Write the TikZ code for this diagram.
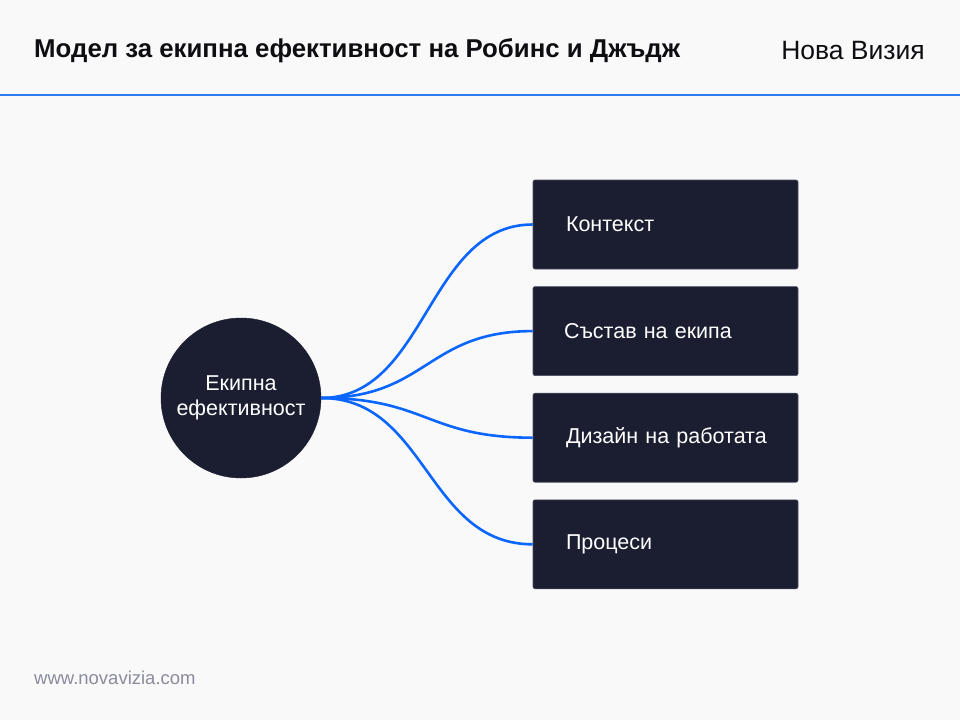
\documentclass[tikz,border=0pt]{standalone}
\usepackage{fontspec}
\setsansfont{Liberation Sans}
\usepackage{tikz}
\usetikzlibrary{arrows.meta,positioning,calc}
\definecolor{colNavy900}  {HTML}{1A1E30}
\definecolor{colNavy600}  {HTML}{4A4E60}
\definecolor{colBlue500}  {HTML}{0A66FF}
\definecolor{colBlue400}  {HTML}{2F7CF0}
\definecolor{colGray50}   {HTML}{F9F9F9}
\definecolor{colGray500}  {HTML}{8A8B9C}
\definecolor{colInk}      {HTML}{0E0E12}
\tikzset{
  hub/.style={
    circle, fill=colNavy900, draw=colNavy900,
    minimum size=160pt, inner sep=0pt,
    align=center, text=white, font=\fontsize{21.5}{25}\sffamily
  },
  factor/.style={
    draw=colNavy600, fill=colNavy900, rounded corners=2pt,
    text width=203pt, inner xsep=31pt, minimum height=89pt,
    align=left, text=white, line width=0.6pt,
    font=\fontsize{21.5}{25}\sffamily
  },
  link/.style={
    line width=2.6pt, draw=colBlue500
  }
}

\begin{document}
\begin{tikzpicture}[
      x=1pt, y=-1pt,
      node distance = 17pt and 212pt,
      every node/.style={font=\sffamily, inner sep=0pt}
  ]
    \useasboundingbox[fill=colGray50] (0,0) rectangle (960,720);

    % header
    \node[anchor=west, text=colInk, font=\fontsize{25.8}{30}\bfseries\sffamily] (title) at (34,51) {Модел за екипна ефективност на Робинс и Джъдж};
    \node[anchor=east, text=colInk, font=\fontsize{26.5}{30}\sffamily] (brand) at (925,51) {Нова Визия};
    \draw[colBlue400, line width=2pt] (0,95) -- (960,95);

    \node[hub] (hub) at (241,398) {Екипна\\ефективност};

    \node[factor] (ctx) at (665.5,224.5) {\hspace*{2pt}Контекст};
    \node[factor, below=of ctx] (comp) {Състав на екипа};
    \node[factor, below=of comp] (design) {\hspace*{2pt}Дизайн на работата};
    \node[factor, below=of design] (proc) {\hspace*{2pt}Процеси};

    \foreach \f in {ctx,comp,design,proc}
      \draw[link] (hub.east) .. controls +(106,0) and +(-106,0) .. (\f.west);

    \node[anchor=west, text=colGray500, font=\fontsize{18.5}{22}\sffamily] (web) at (34,678) {www.novavizia.com};
\end{tikzpicture}
\end{document}
